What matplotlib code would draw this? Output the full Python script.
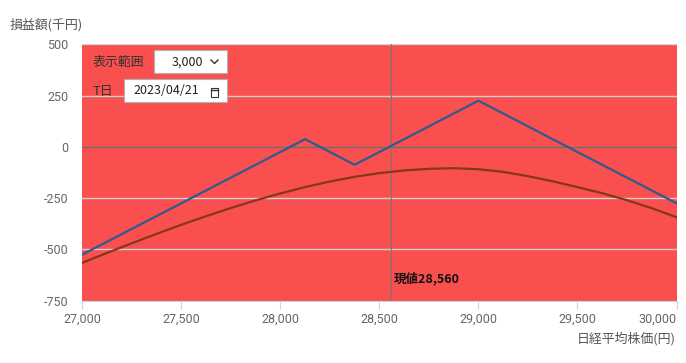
import numpy as np
import matplotlib.pyplot as plt
from matplotlib.patches import Rectangle
from matplotlib.lines import Line2D

plt.rcParams['font.family'] = ['Noto Sans CJK JP', 'DejaVu Sans']

# payoff at expiry (thousand yen) vs Nikkei price
expiry_x = [27000, 28125, 28375, 29000, 30000]
expiry_y = [-525, 37.5, -87.5, 225, -275]

# valuation on T day
tday_x = [27000, 27125, 27250, 27375, 27500, 27625, 27750, 27875, 28000, 28125, 28250, 28375, 28500,
          28625, 28750, 28875, 29000, 29125, 29250, 29375, 29500, 29625, 29750, 29875, 30000]
tday_y = [-565, -517, -470, -424, -380, -338, -298, -261, -227, -196, -169, -146, -128,
          -115, -107, -104, -109, -122, -143, -168, -196, -226, -260, -299, -343]

current_price = 28560
x_ticks = [27000, 27500, 28000, 28500, 29000, 29500, 30000]
y_ticks = [-750, -500, -250, 0, 250, 500]

W, H = 686, 363
fig = plt.figure(figsize=(W / 100, H / 100), dpi=100)
ax = fig.add_axes([82.3 / W, 62.3 / H, 594.2 / W, 256.4 / H])
ax.set_facecolor('#fa4f4f')

for y in y_ticks[1:]:
    c = '#6e6e6e' if y == 0 else '#d0d0d0'
    ax.axhline(y, color=c, lw=1, zorder=1)
ax.axvline(current_price, color='#777777', lw=0.8, zorder=1)

ax.plot(expiry_x, expiry_y, color='#2f5b8c', lw=1.6, zorder=3)
ax.plot(tday_x, tday_y, color='#853818', lw=1.6, zorder=3)

ax.text(current_price + 12, -640, '現値28,560', fontsize=9, fontweight='bold',
        color='#111111', va='center', ha='left')

ax.set_xlim(27000, 30000)
ax.set_ylim(-750, 500)
ax.set_xticks(x_ticks)
ax.set_xticklabels([f'{v:,}' for v in x_ticks], fontsize=9, color='#666666', family='Roboto')
ax.get_xticklabels()[-1].set_ha('right')
ax.set_yticks(y_ticks)
ax.set_yticklabels([str(v) for v in y_ticks], fontsize=9, color='#666666', family='Roboto')
ax.tick_params(axis='x', length=6, color='#ccd6eb', pad=3)
ax.tick_params(axis='y', length=0, pad=10)
for s in ['top', 'right', 'left']:
    ax.spines[s].set_visible(False)
ax.spines['bottom'].set_color('#ccd6eb')

fig.text(10 / W, 1 - 25 / H, '損益額(千円)', fontsize=9.3, color='#555555', va='center', ha='left')
fig.text(676 / W, 1 - 339 / H, '日経平均株価(円)', fontsize=9.3, color='#555555', va='center', ha='right')


def px(x, y):
    return x / W, 1 - y / H


# controls overlay
def box(x0, y0, x1, y1):
    fx, fy = px(x0, y1)
    fig.add_artist(Rectangle((fx, fy), (x1 - x0) / W, (y1 - y0) / H, transform=fig.transFigure,
                             facecolor='white', edgecolor='#b0b0b0', lw=0.8, zorder=5))


box(154, 50, 227, 73)
box(124, 79, 227, 102)
fig.text(*px(93, 62), '表示範囲', fontsize=9.3, color='#333333', va='center', ha='left', zorder=6)
fig.text(*px(93, 91), 'T日', fontsize=9.3, color='#333333', va='center', ha='left', zorder=6)
fig.text(*px(203, 62), '3,000', fontsize=9, color='#222222', va='center', ha='right', zorder=6)
fig.text(*px(133, 91), '2023/04/21', fontsize=9, color='#222222', va='center', ha='left', zorder=6)

# chevron
cx, cy = [211, 214.5, 218], [60, 63.5, 60]
fig.add_artist(Line2D([a / W for a in cx], [1 - b / H for b in cy], transform=fig.transFigure,
                      color='#333333', lw=1.0, zorder=7))
# calendar icon
fx, fy = px(211, 97)
fig.add_artist(Rectangle((fx, fy), 7 / W, 9 / H, transform=fig.transFigure,
                         facecolor='none', edgecolor='#333333', lw=0.8, zorder=7))
fig.add_artist(Line2D([211 / W, 218 / W], [1 - 89.5 / H, 1 - 89.5 / H], transform=fig.transFigure,
                      color='#333333', lw=1.0, zorder=7))

fig.savefig('out.png', dpi=100)
